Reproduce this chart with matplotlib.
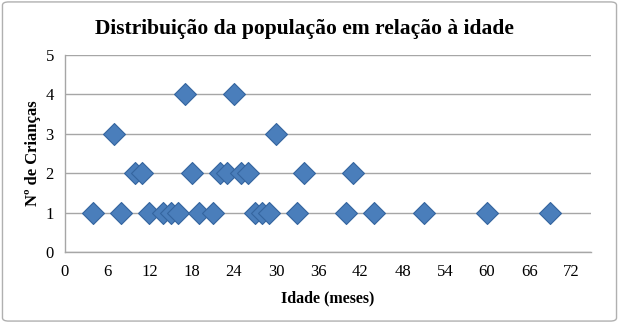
import matplotlib.pyplot as plt
from matplotlib.patches import FancyBboxPatch

# Idade (meses) e número de crianças por idade
idade = [4, 8, 12, 14, 15, 16, 19, 21, 27, 28, 29, 33, 40, 44, 51, 60, 69,
         10, 11, 18, 22, 23, 25, 26, 34, 41,
         7, 30,
         17, 24]
criancas = [1] * 17 + [2] * 9 + [3] * 2 + [4] * 2
x_ticks = list(range(0, 73, 6))
y_ticks = [0, 1, 2, 3, 4, 5]

plt.rcParams['font.family'] = ['Liberation Serif', 'DejaVu Serif']

fig = plt.figure(figsize=(6.19, 3.23), dpi=100)
ax = fig.add_axes([0.105, 0.22, 0.85, 0.61])

# Border around the whole chart
fig.patches.append(FancyBboxPatch((0.004, 0.006), 0.992, 0.988,
                                  boxstyle='round,pad=0,rounding_size=0.01',
                                  transform=fig.transFigure, facecolor='none',
                                  edgecolor='#b0b0b0', linewidth=1.0))

ax.scatter(idade, criancas, marker='D', s=125, color='#4a7ebb',
           edgecolors='#35659f', linewidths=0.8, zorder=3)

ax.set_xlim(0, 74.8)
ax.set_ylim(0, 5)
ax.set_xticks(x_ticks)
ax.set_yticks(y_ticks)
ax.grid(axis='y', color='#a6a6a6', linewidth=1.0)
ax.set_axisbelow(True)
for side in ['top', 'right']:
    ax.spines[side].set_visible(False)
for side in ['left', 'bottom']:
    ax.spines[side].set_color('#a6a6a6')
    ax.spines[side].set_linewidth(1.0)
ax.tick_params(length=0, labelsize=12)
ax.tick_params(axis='x', pad=9)
ax.tick_params(axis='y', pad=8)

fig.suptitle('Distribuição da população em relação à idade',
             x=0.492, y=0.94, fontsize=15.5, fontweight='bold')
ax.set_xlabel('Idade (meses)', fontsize=11.5, fontweight='bold', labelpad=7)
ax.set_ylabel('Nº de Crianças', fontsize=12, fontweight='bold', labelpad=3)

fig.savefig('out.png', dpi=100)
